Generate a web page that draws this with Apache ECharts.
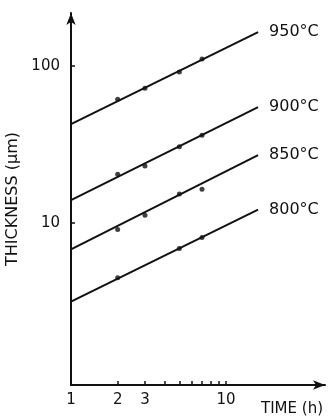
<!DOCTYPE html>
<html>
<head>
<meta charset="utf-8">
<script src="https://cdn.jsdelivr.net/npm/echarts@6/dist/echarts.min.js"></script>
<style>
html,body{margin:0;padding:0;background:#fff;}
#chart{width:330px;height:418px;}
</style>
</head>
<body>
<div id="chart"></div>
<script>
// 温度标签
var temps = ['950°C', '900°C', '850°C', '800°C'];
// 拟合直线的两端 (时间 h)
var lineTimes = [1, 16.1];
var line950 = [42.7, 164.7];
var line900 = [14.0, 54.8];
var line850 = [6.8, 27.1];
var line800 = [3.16, 12.2];
// 实测点
var pts950 = [[2, 61.6], [3, 72.4], [5, 91.6], [7, 111]];
var pts900 = [[2, 20.5], [3, 23.1], [5, 30.6], [7, 36.3]];
var pts850 = [[2, 9.1], [3, 11.2], [5, 15.3], [7, 16.4]];
var pts800 = [[2, 4.49], [5, 6.9], [7, 8.1]];
// 坐标刻度
var xTicks = [2, 3, 4, 5, 6, 7, 8, 9, 10];
var xLabels = [1, 2, 3, 10];
var yTicks = [10, 100];

var chart = echarts.init(document.getElementById('chart'));
var fontFam = 'DejaVu Sans';
var ink = '#111';

function makeLine(name, vals) {
	return {
		name: name,
		type: 'line',
		data: [[lineTimes[0], vals[0]], [lineTimes[1], vals[1]]],
		symbol: 'none',
		lineStyle: { color: ink, width: 2 },
		silent: true,
		endLabel: {
			show: true,
			formatter: name,
			distance: 11,
			color: ink,
			fontSize: 16,
			fontFamily: fontFam
		}
	};
}
function makePts(pts) {
	return {
		type: 'scatter',
		data: pts,
		symbolSize: 5,
		itemStyle: { color: ink },
		silent: true
	};
}

var option = {
	animation: false,
	grid: { left: 71, right: 5, top: 13, bottom: 33, outerBoundsMode: 'none' },
	xAxis: {
		type: 'log',
		min: 1,
		max: 43.5,
		axisLine: { lineStyle: { color: ink, width: 2 }, symbol: ['none', 'arrow'], symbolSize: [7, 12] },
		axisTick: { inside: true, length: 4, customValues: xTicks, lineStyle: { color: ink, width: 1.5 } },
		minorTick: { show: false },
		axisLabel: { customValues: xLabels, color: ink, fontSize: 15, fontFamily: fontFam, margin: 8 },
		splitLine: { show: false }
	},
	yAxis: {
		type: 'log',
		min: 0.93,
		max: 218,
		name: 'THICKNESS (µm)',
		nameLocation: 'middle',
		nameRotate: 90,
		nameGap: 48,
		nameTextStyle: { color: ink, fontSize: 16, fontFamily: fontFam },
		axisLine: { lineStyle: { color: ink, width: 2 }, symbol: ['none', 'arrow'], symbolSize: [7, 12] },
		axisTick: { inside: true, length: 4, customValues: yTicks, lineStyle: { color: ink, width: 1.5 } },
		axisLabel: { customValues: yTicks, color: ink, fontSize: 15, fontFamily: fontFam, margin: 11 },
		splitLine: { show: false }
	},
	graphic: [{
		type: 'text',
		right: 7,
		top: 402,
		style: { text: 'TIME (h)', fill: ink, fontSize: 15, fontFamily: fontFam }
	}],
	series: [
		makeLine(temps[0], line950),
		makeLine(temps[1], line900),
		makeLine(temps[2], line850),
		makeLine(temps[3], line800),
		makePts(pts950),
		makePts(pts900),
		makePts(pts850),
		makePts(pts800)
	]
};
chart.setOption(option);
</script>
</body>
</html>
